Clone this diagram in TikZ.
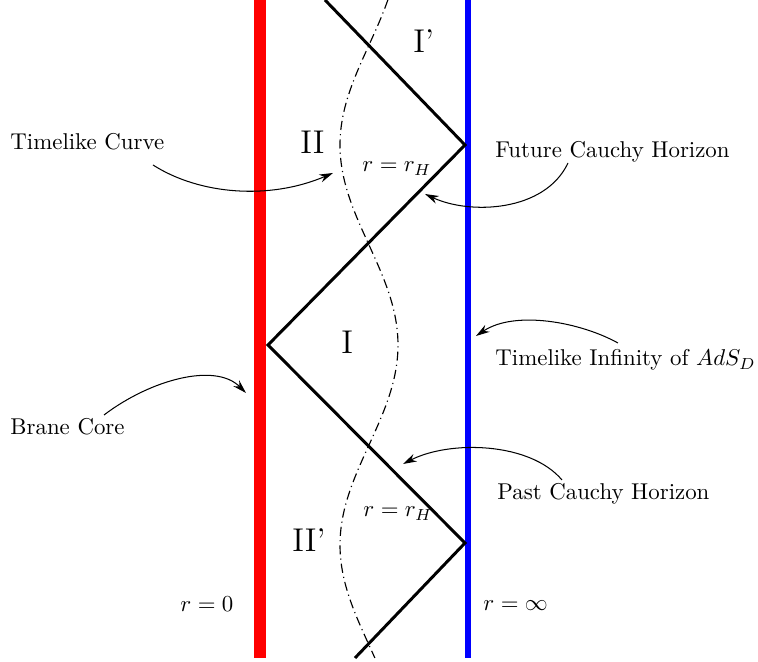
\documentclass[tikz,border=0pt]{standalone}
\usetikzlibrary{arrows.meta}

\tikzset{
  lbl/.style={anchor=base west, inner sep=0pt},
  region/.style={anchor=base west, inner sep=0pt, font=\Large},
  horizon/.style={line width=1.3pt, line join=miter},
  pointer/.style={->, line width=0.45pt},
  wavy/.style={line width=0.5pt, dash pattern=on 4pt off 1.8pt on 0.5pt off 1.8pt},
}

\begin{document}
\begin{tikzpicture}[>={Stealth[length=6pt,width=3.6pt]}, x=0.4374pt, y=-0.4374pt]
    \useasboundingbox (0,0) rectangle (758,662);

    % Brane core and boundary
    \coordinate (brane top) at (260,0);
    \coordinate (brane bot) at (260,658);
    \coordinate (bdry top) at (468,0);
    \coordinate (bdry bot) at (468,658);
    \draw[red, line width=5.1pt] (brane top) -- (brane bot);
    \draw[blue, line width=2.2pt] (bdry top) -- (bdry bot);

    % Horizons
    \coordinate (h0) at (325,0);
    \coordinate (fch) at (465,145);
    \coordinate (tip) at (268,345);
    \coordinate (pch) at (465,543);
    \coordinate (h4) at (355,658);
    \draw[horizon] (h0) -- (fch) -- (tip) -- (pch) -- (h4);

    % Timelike curve
    \draw[wavy] plot[domain=0:658, samples=90, smooth] ({369-29*cos(0.9*(\x-145))}, \x);

    % Regions
    \node[region] (r1p) at (413,53) {I'};
    \node[region] (r2) at (300,154) {II};
    \node[region] (r1) at (341,354) {I};
    \node[region] (r2p) at (292,552) {II'};

    % Radii
    \node[lbl] (rh1) at (362,172) {$r=r_H$};
    \node[lbl] (rh2) at (363,517) {$r=r_H$};
    \node[lbl] (r0) at (180,612) {$r=0$};
    \node[lbl] (rinf) at (483,611) {$r=\infty$};

    % Labels
    \node[lbl] (tc) at (10,150) {Timelike Curve};
    \node[lbl] (fh) at (495,158) {Future Cauchy Horizon};
    \node[lbl] (ti) at (495,366) {Timelike Infinity of $AdS_D$};
    \node[lbl] (bc) at (10,435) {Brane Core};
    \node[lbl] (ph) at (497,500) {Past Cauchy Horizon};

    % Pointers
    \coordinate (tc from) at (153,165);
    \coordinate (tc to) at (333,173);
    \coordinate (fh from) at (568,163);
    \coordinate (fh to) at (425,194);
    \coordinate (ti from) at (618,343);
    \coordinate (ti to) at (476,336);
    \coordinate (bc from) at (104,415);
    \coordinate (bc to) at (246,393);
    \coordinate (ph from) at (562,480);
    \coordinate (ph to) at (403,464);
    \draw[pointer] (tc from) .. controls (200,195) and (270,200) .. (tc to);
    \draw[pointer] (fh from) .. controls (545,212) and (470,215) .. (fh to);
    \draw[pointer] (ti from) .. controls (580,322) and (515,310) .. (ti to);
    \draw[pointer] (bc from) .. controls (150,380) and (215,362) .. (bc to);
    \draw[pointer] (ph from) .. controls (530,442) and (450,440) .. (ph to);
\end{tikzpicture}
\end{document}
